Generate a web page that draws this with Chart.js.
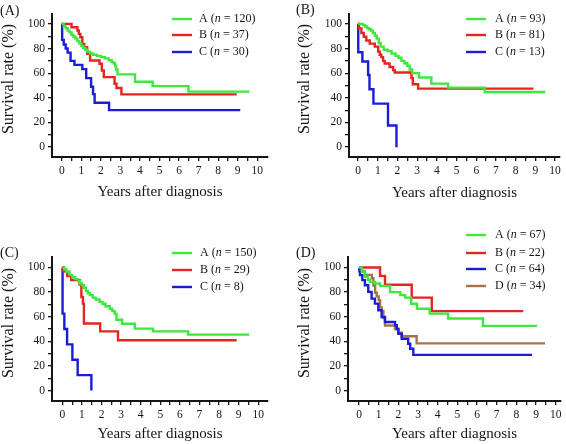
<!DOCTYPE html>
<html>
<head>
<meta charset="utf-8">
<script src="https://cdn.jsdelivr.net/npm/chart.js@4.4.0/dist/chart.umd.min.js"></script>
<style>
  html, body { margin: 0; padding: 0; background: #fff; }
  #wrap { position: relative; width: 566px; height: 444px; overflow: hidden; }
  .panel { position: absolute; width: 283px; height: 222px; }
</style>
</head>
<body>
<div id="wrap">
  <div class="panel" style="left:0;top:0"><canvas id="chartA" width="283" height="222"></canvas></div>
  <div class="panel" style="left:283px;top:0"><canvas id="chartB" width="283" height="222"></canvas></div>
  <div class="panel" style="left:0;top:222px"><canvas id="chartC" width="283" height="222"></canvas></div>
  <div class="panel" style="left:283px;top:222px"><canvas id="chartD" width="283" height="222"></canvas></div>
</div>
<script>
// ─── Ticks ───────────────────────────────────────────────
const xTickValues = [0, 0.5, 1, 1.5, 2, 2.5, 3, 3.5, 4, 4.5, 5, 5.5, 6, 6.5, 7, 7.5, 8, 8.5, 9, 9.5, 10];
const yTickValues = [0, 10, 20, 30, 40, 50, 60, 70, 80, 90, 100];

// ─── Panel (A) ───────────────────────────────────────────
const aGroups = ['A', 'B', 'C'];
const aN = [120, 37, 30];
const aTimeA = [0, 0.1, 0.2, 0.3, 0.4, 0.5, 0.6, 0.7, 0.8, 0.9, 1.0, 1.1, 1.2, 1.3, 1.45, 1.6, 1.8, 2.0, 2.2, 2.4, 2.55, 2.65, 2.72, 2.78, 2.85, 3.75, 4.65, 6.48, 9.6];
const aSurvA = [100, 98, 96.5, 94.5, 93, 91, 89.5, 88, 86, 84, 82, 80.5, 79, 77.5, 76, 75, 74, 73, 72, 70.5, 69, 68, 66, 63, 59, 53, 49.5, 45, 45];
const aTimeB = [0, 0.5, 0.8, 0.87, 0.95, 1.05, 1.15, 1.3, 1.45, 1.93, 2.05, 2.15, 2.7, 2.8, 3.05, 8.95];
const aSurvB = [100, 97.3, 94.6, 91.9, 89.2, 83.8, 81.1, 75.7, 70.3, 67.6, 62.2, 56.8, 51.4, 48, 42.8, 42.8];
const aTimeC = [0, 0.02, 0.1, 0.2, 0.3, 0.45, 0.65, 1.05, 1.25, 1.5, 1.6, 1.68, 2.42, 9.13];
const aSurvC = [100, 87, 83.3, 80, 76.7, 70, 66.7, 63.3, 56, 49, 43, 36, 30, 30];

// ─── Panel (B) ───────────────────────────────────────────
const bGroups = ['A', 'B', 'C'];
const bN = [93, 81, 13];
const bTimeA = [0, 0.25, 0.35, 0.45, 0.55, 0.65, 0.75, 0.85, 0.95, 1.05, 1.15, 1.3, 1.5, 1.7, 1.9, 2.05, 2.2, 2.35, 2.5, 2.62, 2.75, 3.1, 3.72, 4.57, 6.43, 9.5];
const bSurvA = [100, 99, 97.8, 96.7, 95.6, 94.5, 92.5, 90.3, 88, 84.5, 81.5, 79, 78, 76, 74, 72.5, 70, 68, 66, 63, 60, 56.5, 51.5, 48.3, 44.7, 44.7];
const bTimeB = [0, 0.05, 0.17, 0.29, 0.42, 0.59, 0.85, 1.02, 1.1, 1.18, 1.27, 1.35, 1.6, 1.78, 1.86, 2.71, 2.78, 3.05, 8.9];
const bSurvB = [100, 96.3, 92.6, 89.5, 86.5, 84, 81.5, 77.5, 75, 73, 70, 67.8, 65, 62.5, 60.5, 56, 51, 47.5, 47.5];
const bTimeC = [0, 0.01, 0.22, 0.51, 0.58, 0.78, 1.52, 1.95];
const bSurvC = [100, 77, 69.5, 58.5, 47, 35.3, 17.6, 0];

// ─── Panel (C) ───────────────────────────────────────────
const cGroups = ['A', 'B', 'C'];
const cN = [150, 29, 8];
const cTimeA = [0, 0.1, 0.2, 0.37, 0.5, 0.65, 0.8, 0.9, 1.0, 1.1, 1.2, 1.3, 1.4, 1.55, 1.7, 1.9, 2.05, 2.2, 2.42, 2.55, 2.67, 2.76, 3.05, 3.7, 4.63, 6.42, 9.54];
const cSurvA = [100, 98.5, 96.5, 94, 92, 90.5, 89, 87, 85.5, 83.5, 81, 79, 77.5, 75.5, 74, 72, 70.5, 68.5, 66.5, 64.5, 62.5, 57.5, 54.3, 50.3, 48.1, 45.4, 45.4];
const cTimeB = [0, 0.05, 0.25, 0.45, 0.88, 0.97, 1.05, 1.1, 1.93, 2.84, 8.9];
const cSurvB = [100, 96.6, 93.1, 89.7, 86.2, 76, 70.6, 54.5, 48.1, 40.8, 40.8];
const cTimeC = [0, 0.01, 0.1, 0.24, 0.51, 0.78, 1.48];
const cSurvC = [100, 62.5, 50, 37.5, 25, 12.5, 0];

// ─── Panel (D) ───────────────────────────────────────────
const dGroups = ['A', 'B', 'C', 'D'];
const dN = [67, 22, 64, 34];
const dTimeA = [0, 0.14, 0.3, 0.45, 0.56, 0.81, 1.07, 1.58, 2.1, 2.35, 2.65, 2.95, 3.59, 4.53, 6.3, 9.05];
const dSurvA = [100, 96.5, 92.4, 90, 88.3, 87, 85, 80, 77.5, 75.5, 70.5, 66.5, 62.5, 58.5, 52.5, 52.5];
const dTimeB = [0, 1.07, 1.32, 2.68, 3.7, 8.35];
const dSurvB = [100, 93.2, 85.9, 75.5, 64.5, 64.5];
const dTimeC = [0, 0.02, 0.05, 0.17, 0.3, 0.47, 0.64, 0.81, 0.98, 1.15, 1.32, 1.83, 1.92, 2.0, 2.17, 2.5, 2.6, 2.76, 8.8];
const dSurvC = [100, 96.9, 93.8, 89.7, 85.6, 80.2, 74.7, 70.6, 65.2, 59.8, 55.7, 53, 50, 46.2, 42.1, 38, 33.9, 29, 29];
const dTimeD = [0, 0.1, 0.3, 0.65, 0.73, 0.82, 0.9, 1.0, 1.07, 1.15, 1.24, 1.32, 1.83, 2.0, 2.17, 2.93, 9.46];
const dSurvD = [100, 97.1, 94, 91.2, 85.3, 79.4, 76.5, 73.5, 67.6, 64.7, 58.8, 52.9, 50, 47, 44.1, 38.3, 38.3];

// ─── Styles ──────────────────────────────────────────────
const groupColors = { A: '#3ee83e', B: '#e62420', C: '#1c1cd8', D: '#a6734a' };
const axisColor = '#151515';
const FONT = "'Liberation Serif', 'Times New Roman', serif";
const W = 283, H = 222;

Chart.defaults.font.family = FONT;
Chart.defaults.color = axisColor;

// legend, panel tag and y title, drawn after the chart
const kmLegend = {
  id: 'kmLegend',
  afterDraw(chart, args, opts) {
    const ctx = chart.ctx;
    ctx.save();
    ctx.textBaseline = 'middle';
    ctx.fillStyle = axisColor;
    ctx.font = `14px ${FONT}`;
    ctx.fillText(opts.tag, opts.tagX, opts.tagY);

    // y axis title
    ctx.save();
    ctx.translate(opts.yTitleX, opts.yTitleY);
    ctx.rotate(-Math.PI / 2);
    ctx.textAlign = 'center';
    ctx.font = `16px ${FONT}`;
    ctx.fillText('Survival rate (%)', 0, 0);
    ctx.restore();

    chart.data.datasets.forEach((ds, i) => {
      const y = opts.rows[i];
      ctx.strokeStyle = ds.borderColor;
      ctx.lineWidth = 2.4;
      ctx.beginPath();
      ctx.moveTo(opts.x1, y);
      ctx.lineTo(opts.x2, y);
      ctx.stroke();

      let x = opts.tx;
      const parts = [
        [`${ds.label} (`, 'normal'],
        ['n', 'italic'],
        [` = ${opts.counts[i]})`, 'normal']
      ];
      parts.forEach(([txt, style]) => {
        ctx.font = `${style} 12px ${FONT}`;
        ctx.fillStyle = axisColor;
        ctx.fillText(txt, x, y);
        x += ctx.measureText(txt).width;
      });
    });
    ctx.restore();
  }
};

function makePanel(id, p) {
  const datasets = p.groups.map((g, i) => ({
    label: g,
    data: p.times[i].map((t, k) => ({ x: t, y: p.surv[i][k] })),
    borderColor: groupColors[g],
    borderWidth: 2.4,
    stepped: 'before',
    pointRadius: 0,
    fill: false
  }));

  new Chart(document.getElementById(id), {
    type: 'line',
    data: { datasets },
    options: {
      responsive: false,
      animation: false,
      layout: { padding: { left: 0, top: p.top, right: W - p.right, bottom: 0 } },
      plugins: {
        legend: { display: false },
        tooltip: { enabled: false },
        kmLegend: {
          tag: p.tag, tagX: p.tagX, tagY: p.tagY,
          yTitleX: p.yTitleX, yTitleY: p.yTitleY,
          x1: p.legX1, x2: p.legX2, tx: p.legTx, rows: p.legRows,
          counts: p.counts
        }
      },
      scales: {
        x: {
          type: 'linear',
          min: p.xMin,
          max: p.xMax,
          afterFit: s => { s.height = H - p.bottom; },
          afterBuildTicks: s => { s.ticks = xTickValues.map(v => ({ value: v })); },
          ticks: {
            autoSkip: false, maxRotation: 0, padding: 3,
            font: { size: 11.5 }, color: axisColor,
            callback: v => Number.isInteger(v) ? String(v) : ''
          },
          grid: { drawOnChartArea: false, drawTicks: true, tickLength: 4, color: axisColor, lineWidth: 1.3 },
          border: { display: true, color: axisColor, width: 2 },
          title: {
            display: true, text: 'Years after diagnosis',
            font: { size: 15 }, color: axisColor,
            padding: { top: 0, bottom: p.xTitlePad }
          }
        },
        y: {
          min: p.yMin,
          max: p.yMax,
          afterFit: s => { s.width = p.left; },
          afterBuildTicks: s => { s.ticks = yTickValues.map(v => ({ value: v })); },
          ticks: {
            autoSkip: false, padding: 3,
            font: { size: 11.5 }, color: axisColor,
            callback: v => v % 20 === 0 ? String(v) : ''
          },
          grid: { drawOnChartArea: false, drawTicks: true, tickLength: 4, color: axisColor, lineWidth: 1.3 },
          border: { display: true, color: axisColor, width: 2 }
        }
      }
    },
    plugins: [kmLegend]
  });
}

makePanel('chartA', {
  groups: aGroups, counts: aN,
  times: [aTimeA, aTimeB, aTimeC], surv: [aSurvA, aSurvB, aSurvC],
  left: 52, right: 268, top: 14, bottom: 157,
  xMin: -0.5, xMax: 10.55, yMin: -8, yMax: 108,
  xTitlePad: 21, yTitleX: 9, yTitleY: 79,
  tag: '(A)', tagX: 0, tagY: 11,
  legX1: 172, legX2: 192, legTx: 199, legRows: [19, 35, 52]
});

makePanel('chartB', {
  groups: bGroups, counts: bN,
  times: [bTimeA, bTimeB, bTimeC], surv: [bSurvA, bSurvB, bSurvC],
  left: 66, right: 277, top: 14, bottom: 157,
  xMin: -0.46, xMax: 10.25, yMin: -8, yMax: 108,
  xTitlePad: 20, yTitleX: 22, yTitleY: 79,
  tag: '(B)', tagX: 13, tagY: 10,
  legX1: 183, legX2: 203, legTx: 212, legRows: [19, 35, 52]
});

makePanel('chartC', {
  groups: cGroups, counts: cN,
  times: [cTimeA, cTimeB, cTimeC], surv: [cSurvA, cSurvB, cSurvC],
  left: 52, right: 268, top: 35, bottom: 179,
  xMin: -0.53, xMax: 10.5, yMin: -8.5, yMax: 108.5,
  xTitlePad: 1, yTitleX: 9, yTitleY: 101,
  tag: '(C)', tagX: 0, tagY: 31,
  legX1: 172, legX2: 192, legTx: 200, legRows: [31, 48, 65]
});

makePanel('chartD', {
  groups: dGroups, counts: dN,
  times: [dTimeA, dTimeB, dTimeC, dTimeD], surv: [dSurvA, dSurvB, dSurvC, dSurvD],
  left: 65, right: 278, top: 35, bottom: 179,
  xMin: -0.56, xMax: 10.27, yMin: -8.5, yMax: 108.5,
  xTitlePad: 1, yTitleX: 22, yTitleY: 101,
  tag: '(D)', tagX: 13, tagY: 31,
  legX1: 183, legX2: 203, legTx: 212, legRows: [13, 31, 47, 64]
});
</script>
</body>
</html>
